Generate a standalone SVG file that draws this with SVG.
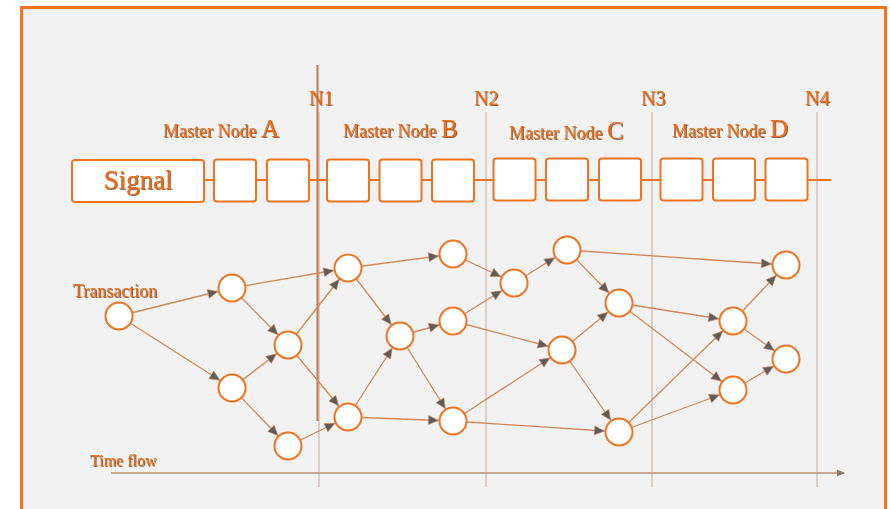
<svg xmlns="http://www.w3.org/2000/svg" width="890" height="509" viewBox="0 0 890 509">
<style>
.lbl{font-family:"Liberation Serif","Times New Roman",serif;fill:#EF6A14;filter:url(#sh)}
.box{fill:#fff;stroke:#F07420;stroke-width:2}
.node circle{fill:#fff;stroke:#F07420;stroke-width:2}
.edge{stroke:#D4885A;stroke-width:1.3;fill:none;marker-end:url(#ah)}
.grid{stroke:#C9A89C;stroke-width:1}
</style>
<defs>
<filter id="sh" x="-10%" y="-10%" width="130%" height="140%">
<feDropShadow dx="0.9" dy="0.9" stdDeviation="0.4" flood-color="#5a2200" flood-opacity="0.75"/>
</filter>
<marker id="ah" markerUnits="userSpaceOnUse" markerWidth="10" markerHeight="9" refX="24.5" refY="4.5" orient="auto" overflow="visible">
<path d="M0,0 L10,4.5 L0,9 z" fill="#5c5c5c" stroke="#D4885A" stroke-width="0.6"/>
</marker>
<marker id="ta" markerUnits="userSpaceOnUse" markerWidth="8" markerHeight="7" refX="7" refY="3.5" orient="auto" overflow="visible">
<path d="M0,0 L8,3.5 L0,7 z" fill="#8a7a70"/>
</marker>
</defs>
<rect x="0" y="0" width="890" height="509" fill="#fff"/>
<rect x="21.5" y="7.5" width="864" height="530" fill="#F2F2F2" stroke="#F7731C" stroke-width="3"/>

<g id="grid">
<line class="grid" x1="319" y1="112" x2="319" y2="487"/>
<line class="grid" x1="486" y1="112" x2="486" y2="487"/>
<line class="grid" x1="652" y1="112" x2="652" y2="487"/>
<line class="grid" x1="817" y1="112" x2="817" y2="487"/>
<line x1="317.5" y1="65" x2="317.5" y2="421" stroke="#C8774A" stroke-width="2"/>
</g>

<g id="labels">
<text class="lbl" x="309" y="105" font-size="20">N1</text>
<text class="lbl" x="474" y="105" font-size="20">N2</text>
<text class="lbl" x="641" y="105" font-size="20">N3</text>
<text class="lbl" x="805" y="105" font-size="20">N4</text>
<text class="lbl" x="163" y="137" font-size="18">Master Node <tspan font-size="25">A</tspan></text>
<text class="lbl" x="343" y="137" font-size="18">Master Node <tspan font-size="25">B</tspan></text>
<text class="lbl" x="509" y="139" font-size="18">Master Node <tspan font-size="25">C</tspan></text>
<text class="lbl" x="672" y="137" font-size="18">Master Node <tspan font-size="25">D</tspan></text>
<text class="lbl" x="73" y="297" font-size="18">Transaction</text>
<text class="lbl" x="90" y="466" font-size="16">Time flow</text>
</g>

<g id="chain">
<line x1="204" y1="180" x2="831" y2="180" stroke="#F07420" stroke-width="2"/>
<g id="signal">
<rect class="box" x="72" y="160" width="132" height="42" rx="3"/>
<text class="lbl" x="138" y="189" font-size="27" text-anchor="middle" fill="#DD6418">Signal</text>
</g>
<rect class="box" x="214" y="159.5" width="42" height="42" rx="3"/>
<rect class="box" x="267" y="159.5" width="42" height="42" rx="3"/>
<rect class="box" x="327" y="159.5" width="42" height="42" rx="3"/>
<rect class="box" x="379.5" y="159.5" width="42" height="42" rx="3"/>
<rect class="box" x="432" y="159.5" width="42" height="42" rx="3"/>
<rect class="box" x="493.5" y="158.5" width="42" height="42" rx="3"/>
<rect class="box" x="546" y="158.5" width="42" height="42" rx="3"/>
<rect class="box" x="599" y="158.5" width="42" height="42" rx="3"/>
<rect class="box" x="660.5" y="158.5" width="42" height="42" rx="3"/>
<rect class="box" x="713" y="158.5" width="42" height="42" rx="3"/>
<rect class="box" x="765.5" y="158.5" width="42" height="42" rx="3"/>
</g>

<g id="axis">
<line x1="111" y1="473" x2="844" y2="473" stroke="#C9A593" stroke-width="2" marker-end="url(#ta)"/>
</g>

<g id="connectors">
<line class="edge" x1="119" y1="316" x2="232" y2="288"/>
<line class="edge" x1="119" y1="316" x2="232" y2="388"/>
<line class="edge" x1="232" y1="288" x2="288" y2="345"/>
<line class="edge" x1="232" y1="288" x2="348" y2="268"/>
<line class="edge" x1="232" y1="388" x2="288" y2="345"/>
<line class="edge" x1="232" y1="388" x2="288" y2="446"/>
<line class="edge" x1="288" y1="345" x2="348" y2="268"/>
<line class="edge" x1="288" y1="345" x2="348" y2="417"/>
<line class="edge" x1="288" y1="446" x2="348" y2="417"/>
<line class="edge" x1="348" y1="268" x2="453" y2="254"/>
<line class="edge" x1="348" y1="268" x2="400" y2="336"/>
<line class="edge" x1="348" y1="417" x2="400" y2="336"/>
<line class="edge" x1="348" y1="417" x2="453" y2="421"/>
<line class="edge" x1="400" y1="336" x2="453" y2="321"/>
<line class="edge" x1="400" y1="336" x2="453" y2="421"/>
<line class="edge" x1="453" y1="254" x2="514" y2="283"/>
<line class="edge" x1="453" y1="321" x2="514" y2="283"/>
<line class="edge" x1="453" y1="321" x2="562" y2="350"/>
<line class="edge" x1="453" y1="421" x2="562" y2="350"/>
<line class="edge" x1="453" y1="421" x2="619" y2="432"/>
<line class="edge" x1="514" y1="283" x2="567" y2="250"/>
<line class="edge" x1="567" y1="250" x2="619" y2="303"/>
<line class="edge" x1="567" y1="250" x2="786" y2="265"/>
<line class="edge" x1="562" y1="350" x2="619" y2="303"/>
<line class="edge" x1="562" y1="350" x2="619" y2="432"/>
<line class="edge" x1="619" y1="303" x2="733" y2="321"/>
<line class="edge" x1="619" y1="303" x2="733" y2="390"/>
<line class="edge" x1="619" y1="432" x2="733" y2="321"/>
<line class="edge" x1="619" y1="432" x2="733" y2="390"/>
<line class="edge" x1="733" y1="321" x2="786" y2="265"/>
<line class="edge" x1="733" y1="321" x2="786" y2="359"/>
<line class="edge" x1="733" y1="390" x2="786" y2="359"/>
</g>

<g id="n-t0" class="node"><circle cx="119" cy="316" r="13.5"/></g>
<g id="n-a1" class="node"><circle cx="232" cy="288" r="13.5"/></g>
<g id="n-a2" class="node"><circle cx="232" cy="388" r="13.5"/></g>
<g id="n-a3" class="node"><circle cx="288" cy="345" r="13.5"/></g>
<g id="n-a4" class="node"><circle cx="288" cy="446" r="13.5"/></g>
<g id="n-b1" class="node"><circle cx="348" cy="268" r="13.5"/></g>
<g id="n-b2" class="node"><circle cx="348" cy="417" r="13.5"/></g>
<g id="n-b3" class="node"><circle cx="400" cy="336" r="13.5"/></g>
<g id="n-b4" class="node"><circle cx="453" cy="254" r="13.5"/></g>
<g id="n-b5" class="node"><circle cx="453" cy="321" r="13.5"/></g>
<g id="n-b6" class="node"><circle cx="453" cy="421" r="13.5"/></g>
<g id="n-c1" class="node"><circle cx="514" cy="283" r="13.5"/></g>
<g id="n-c2" class="node"><circle cx="567" cy="250" r="13.5"/></g>
<g id="n-c3" class="node"><circle cx="619" cy="303" r="13.5"/></g>
<g id="n-c4" class="node"><circle cx="562" cy="350" r="13.5"/></g>
<g id="n-c5" class="node"><circle cx="619" cy="432" r="13.5"/></g>
<g id="n-d1" class="node"><circle cx="733" cy="321" r="13.5"/></g>
<g id="n-d2" class="node"><circle cx="733" cy="390" r="13.5"/></g>
<g id="n-d3" class="node"><circle cx="786" cy="265" r="13.5"/></g>
<g id="n-d4" class="node"><circle cx="786" cy="359" r="13.5"/></g>
</svg>
